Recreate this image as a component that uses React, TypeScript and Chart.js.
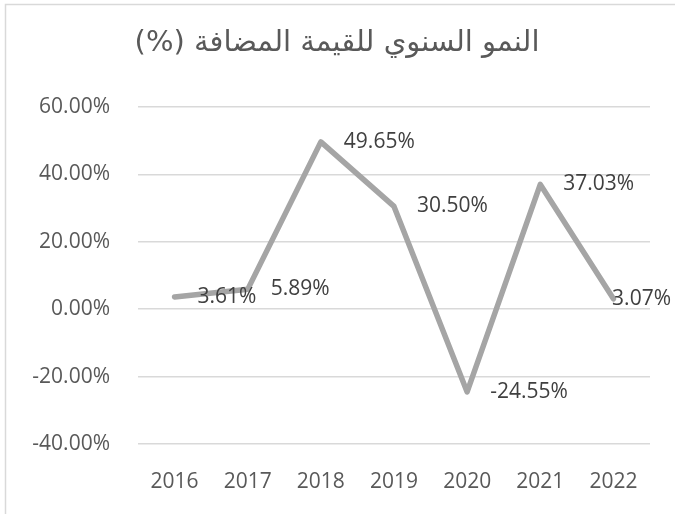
import React, { useEffect, useRef } from "react";
import { Chart, registerables } from "chart.js";

Chart.register(...registerables);

const categories = ["2016", "2017", "2018", "2019", "2020", "2021", "2022"];
const growthValues = [3.61, 5.89, 49.65, 30.5, -24.55, 37.03, 3.07];
const yTickValues = [-40, -20, 0, 20, 40, 60];
const chartTitle = "النمو السنوي للقيمة المضافة (%)";

const FONT = "'Open Sans', sans-serif";
const TEXT = "#595959";

const framePlugin = {
  id: "frame",
  beforeDraw(chart: any) {
    const ctx = chart.ctx;
    ctx.save();
    ctx.fillStyle = "#ffffff";
    ctx.fillRect(0, 0, chart.width, chart.height);
    ctx.strokeStyle = "#D9D9D9";
    ctx.lineWidth = 1.5;
    ctx.beginPath();
    ctx.moveTo(5.5, chart.height);
    ctx.lineTo(5.5, 4.5);
    ctx.lineTo(chart.width, 4.5);
    ctx.stroke();
    // title
    ctx.fillStyle = TEXT;
    ctx.font = "29px 'DejaVu Sans', sans-serif";
    ctx.textAlign = "center";
    ctx.textBaseline = "middle";
    (ctx as any).direction = "rtl";
    ctx.fillText(chartTitle, 337, 43);
    ctx.restore();
  },
};

const labelPlugin = {
  id: "pointLabels",
  afterDatasetsDraw(chart: any) {
    const ctx = chart.ctx;
    const meta = chart.getDatasetMeta(0);
    const data = chart.data.datasets[0].data as number[];
    ctx.save();
    ctx.font = `21px ${FONT}`;
    ctx.fillStyle = "#404040";
    ctx.textAlign = "left";
    ctx.textBaseline = "middle";
    meta.data.forEach((pt: any, i: number) => {
      const text = data[i].toFixed(2) + "%";
      const w = ctx.measureText(text).width;
      let x = pt.x + 23;
      if (x + w > 671) x = 671 - w;
      ctx.fillText(text, x, pt.y);
    });
    ctx.restore();
  },
};

export default function App() {
  const ref = useRef<HTMLCanvasElement>(null);
  useEffect(() => {
    if (!ref.current) return;
    const chart = new Chart(ref.current, {
      type: "line",
      data: {
        labels: categories,
        datasets: [
          {
            data: growthValues,
            borderColor: "#A5A5A5",
            borderWidth: 5.5,
            pointRadius: 0,
            tension: 0,
            borderCapStyle: "round",
            borderJoinStyle: "round",
          },
        ],
      },
      options: {
        responsive: false,
        animation: false,
        layout: { padding: { top: 107, right: 25, left: 0, bottom: 0 } },
        plugins: {
          legend: { display: false },
          title: { display: false },
          tooltip: { enabled: false },
        },
        scales: {
          x: {
            type: "category",
            offset: true,
            grid: { display: false, drawTicks: false },
            border: { display: false },
            ticks: { color: TEXT, font: { family: FONT, size: 21 }, padding: 25, maxRotation: 0 },
            afterFit(scale: any) {
              scale.height = 70;
            },
          },
          y: {
            min: -40,
            max: 60,
            afterBuildTicks(scale: any) {
              scale.ticks = yTickValues.map((v) => ({ value: v }));
            },
            grid: { color: "#D9D9D9", lineWidth: 1.5, drawTicks: false },
            border: { display: false },
            ticks: {
              color: TEXT,
              font: { family: FONT, size: 21 },
              padding: 28,
              callback: (v: any) => Number(v).toFixed(2) + "%",
            },
            afterFit(scale: any) {
              scale.width = 138;
            },
          },
        },
      },
      plugins: [framePlugin, labelPlugin],
    });
    return () => chart.destroy();
  }, []);
  return (
    <div style={{ position: "fixed", left: 0, top: 0, width: 675, height: 514, background: "#fff" }}>
      <canvas ref={ref} width={675} height={514} style={{ display: "block" }} />
    </div>
  );
}
